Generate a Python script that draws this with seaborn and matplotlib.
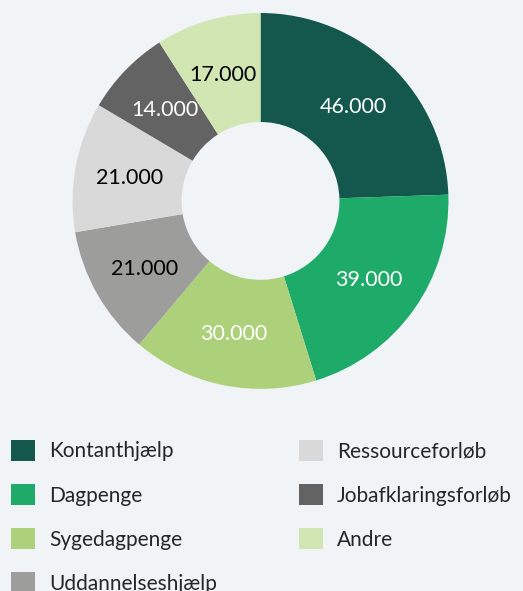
import matplotlib
matplotlib.use("Agg")
import matplotlib.pyplot as plt
import matplotlib.patches as mpatches
import seaborn as sns
import numpy as np

# data (clockwise from top)
categories = ["Kontanthjælp", "Dagpenge", "Sygedagpenge", "Uddannelseshjælp",
              "Ressourceforløb", "Jobafklaringsforløb", "Andre"]
values = [46000, 39000, 30000, 21000, 21000, 14000, 17000]
value_labels = ["46.000", "39.000", "30.000", "21.000", "21.000", "14.000", "17.000"]
colors = ["#14574c", "#1eab6a", "#add17b", "#9d9d9b", "#d9d9d9", "#636363", "#d2e6b4"]
label_colors = ["white", "white", "white", "black", "black", "white", "black"]

bg = "#f0f4f7"
sns.set_style("white")
plt.rcParams["font.family"] = ["Lato", "DejaVu Sans"]

fig = plt.figure(figsize=(5.23, 5.91), dpi=100, facecolor=bg)
ax = fig.add_axes([0.1386, 0.342, 0.719, 0.636])
ax.set_facecolor(bg)

wedges, _ = ax.pie(values, colors=colors, startangle=90, counterclock=False,
                   radius=1.0, wedgeprops=dict(width=0.58, edgecolor="none"))
ax.set_xlim(-1, 1)
ax.set_ylim(-1, 1)
ax.set_aspect("equal")
ax.axis("off")

# value labels in the middle of each ring segment
total = sum(values)
start = 90.0
for v, lab, c in zip(values, value_labels, label_colors):
    ang = start - v / total * 360 / 2
    start -= v / total * 360
    r = 0.71
    ax.text(r * np.cos(np.radians(ang)), r * np.sin(np.radians(ang)) - 0.01, lab,
            ha="center", va="center", color=c, fontsize=15.5)

handles = [mpatches.Patch(facecolor=col, edgecolor="none", label=cat)
           for cat, col in zip(categories, colors)]

leg_kw = dict(loc="upper left", frameon=False, borderpad=0, borderaxespad=0,
              handlelength=1.15, handleheight=1.15, handletextpad=0.68,
              labelspacing=1.09, fontsize=15)
fig.legend(handles=handles[:4], bbox_to_anchor=(11 / 523, 1 - 440 / 591), **leg_kw)
fig.legend(handles=handles[4:], bbox_to_anchor=(299 / 523, 1 - 440 / 591), **leg_kw)

fig.savefig("out.png", dpi=100, facecolor=bg)
